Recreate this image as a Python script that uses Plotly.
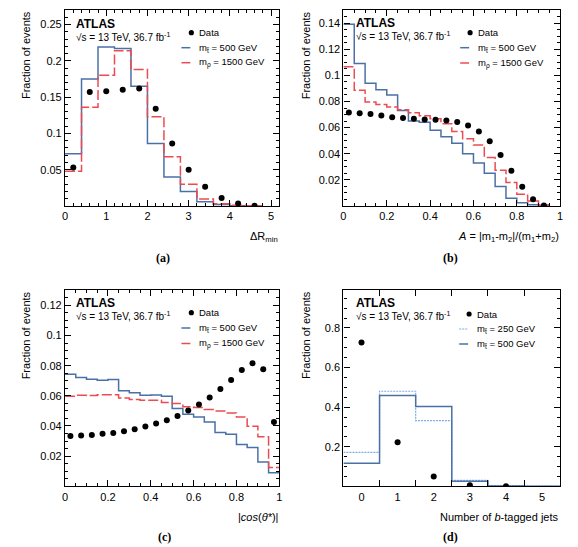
import plotly.graph_objects as go

W, H = 578, 547

# ---------------- data ----------------
# (a) Delta R_min
a_edges = [0, 0.4, 0.8, 1.2, 1.6, 2.0, 2.4, 2.8, 3.2, 3.6, 4.0, 4.4, 4.8]
a_stop500 = [0.072, 0.175, 0.219, 0.217, 0.165, 0.086, 0.040, 0.020, 0.006, 0.002, 0.0005, 0.0]
a_rho1500 = [0.048, 0.136, 0.180, 0.214, 0.188, 0.123, 0.068, 0.030, 0.0095, 0.003, 0.001, 0.0003]
a_data_x = [0.2, 0.6, 1.0, 1.4, 1.8, 2.2, 2.6, 3.0, 3.4, 3.8, 4.2, 4.6]
a_data = [0.053, 0.157, 0.158, 0.160, 0.162, 0.134, 0.086, 0.050, 0.0265, 0.011, 0.0036, 0.0005]

# (b) mass asymmetry A
b_edges = [0, 0.05, 0.1, 0.15, 0.2, 0.25, 0.3, 0.35, 0.4, 0.45, 0.5, 0.55, 0.6,
           0.65, 0.7, 0.75, 0.8, 0.85, 0.9, 0.95]
b_stop500 = [0.139, 0.109, 0.094, 0.089, 0.085, 0.073, 0.065, 0.064, 0.058, 0.053,
             0.048, 0.040, 0.033, 0.025, 0.015, 0.006, 0.0025, 0.001, 0.0003]
b_rho1500 = [0.1066, 0.0886, 0.0796, 0.0776, 0.0758, 0.0737, 0.0714, 0.069, 0.0668, 0.063,
             0.057, 0.0514, 0.0467, 0.0372, 0.0274, 0.018, 0.009, 0.0038, 0.001]
b_data_x = [0.025, 0.075, 0.125, 0.175, 0.225, 0.275, 0.325, 0.375, 0.425, 0.475,
            0.525, 0.575, 0.625, 0.675, 0.725, 0.775, 0.825, 0.875, 0.925]
b_data = [0.0716, 0.0709, 0.0704, 0.0693, 0.068, 0.0673, 0.0668, 0.0662, 0.066, 0.0655,
          0.0642, 0.0616, 0.057, 0.0495, 0.039, 0.027, 0.0148, 0.0051, 0.0004]

# (c) |cos(theta*)|
c_edges = [0, 0.05, 0.1, 0.15, 0.2, 0.25, 0.3, 0.35, 0.4, 0.45, 0.5, 0.55, 0.6,
           0.65, 0.7, 0.75, 0.8, 0.85, 0.9, 0.95, 1.0]
c_stop500 = [0.0743, 0.0721, 0.071, 0.0703, 0.0708, 0.0633, 0.062, 0.0604, 0.0606, 0.0597,
             0.0516, 0.0478, 0.046, 0.0427, 0.0357, 0.0346, 0.0277, 0.0257, 0.0162, 0.009]
c_rho1500 = [0.0597, 0.0604, 0.0602, 0.0608, 0.0608, 0.0586, 0.0575, 0.0571, 0.0571, 0.0555,
             0.0549, 0.0527, 0.0522, 0.0509, 0.050, 0.0487, 0.046, 0.0399, 0.0328, 0.0125]
c_data_x = [0.025, 0.075, 0.125, 0.175, 0.225, 0.275, 0.325, 0.375, 0.425, 0.475,
            0.525, 0.575, 0.625, 0.675, 0.725, 0.775, 0.825, 0.875, 0.925, 0.975]
c_data = [0.0334, 0.0337, 0.0341, 0.0348, 0.0354, 0.0365, 0.0379, 0.0397, 0.0416, 0.0438,
          0.0467, 0.0502, 0.0542, 0.0589, 0.0646, 0.0705, 0.0772, 0.0816, 0.0776, 0.0427]

# (d) number of b-tagged jets
d_edges = [-0.5, 0.5, 1.5, 2.5, 3.5, 4.5, 5.5]
d_stop250 = [0.171, 0.48, 0.332, 0.030, 0.004, 0.0005]
d_stop500 = [0.116, 0.459, 0.403, 0.0256, 0.002, 0.0003]
d_data_x = [0, 1, 2, 3, 4]
d_data = [0.726, 0.223, 0.049, 0.0055, 0.0005]
d_ticks = [0, 1, 2, 3, 4, 5]
d_bin_bounds = [-0.5, 0.5, 1.5, 2.5, 3.5, 4.5, 5.5]

BLUE = "#4a70a6"
RED = "#ec4b52"
LBLUE = "#7eaee0"
FONT = "Liberation Sans"
RED_DASH = "10px,3px"


def X(px):
    return px / W


def Y(py):
    return 1 - py / H


# frames in px: (left, right, top, bottom)
frames = {
    "a": (62.7, 279.2, 10, 206),
    "b": (344.0, 563.0, 10, 206),
    "c": (62.7, 279.2, 290.3, 486.3),
    "d": (344.0, 563.0, 290.3, 486.3),
}

fig = go.Figure()


def step(edges, vals, axn, color, dash, width=1.5, name=""):
    fig.add_trace(go.Scatter(
        x=edges, y=list(vals) + [vals[-1]], mode="lines", line_shape="hv",
        line=dict(color=color, width=width, dash=dash), name=name,
        xaxis="x" + axn, yaxis="y" + axn, showlegend=False, hoverinfo="skip"))


def points(xs, ys, axn):
    fig.add_trace(go.Scatter(
        x=xs, y=ys, mode="markers", marker=dict(color="black", size=6),
        name="Data", xaxis="x" + axn, yaxis="y" + axn, showlegend=False))


step(a_edges, a_stop500, "", BLUE, "solid", name="m_stop = 500 GeV")
step(a_edges, a_rho1500, "", RED, RED_DASH, name="m_rho = 1500 GeV")
points(a_data_x, a_data, "")

step(b_edges, b_stop500, "2", BLUE, "solid")
step(b_edges, b_rho1500, "2", RED, RED_DASH)
points(b_data_x, b_data, "2")

step(c_edges, c_stop500, "3", BLUE, "solid")
step(c_edges, c_rho1500, "3", RED, RED_DASH)
points(c_data_x, c_data, "3")

step(d_edges, d_stop250, "4", LBLUE, "2px,1px", width=1.2)
step(d_edges, d_stop500, "4", BLUE, "solid")
points(d_data_x, d_data, "4")


def axis(frame, horiz, rng, anchor, tickvals, minor_dtick=None, minor_vals=None,
         ticklen=6, ticktext=None):
    l, r, t, b = frames[frame]
    dom = [X(l), X(r)] if horiz else [Y(b), Y(t)]
    minor = dict(ticks="inside", ticklen=3, tickcolor="black", tickwidth=1, showgrid=False)
    if minor_dtick is not None:
        minor["dtick"] = minor_dtick
    if minor_vals is not None:
        minor["tickvals"] = minor_vals
        minor["ticklen"] = 6
    ax = dict(domain=dom, range=rng, anchor=anchor, showline=True, linecolor="black",
              linewidth=1.2, mirror="allticks", ticks="inside", ticklen=ticklen,
              tickcolor="black", tickwidth=1, showgrid=False, zeroline=False,
              tickvals=tickvals, tickfont=dict(family=FONT, size=11, color="black"),
              minor=minor, fixedrange=True)
    if ticktext is not None:
        ax["ticktext"] = ticktext
    return ax


layout = dict(
    width=W, height=H, margin=dict(l=0, r=0, t=0, b=0),
    paper_bgcolor="white", plot_bgcolor="white", showlegend=False,
    xaxis=axis("a", True, [0, 5.2], "y", [0, 1, 2, 3, 4, 5], minor_dtick=0.2),
    yaxis=axis("a", False, [0, 0.27], "x", [0.05, 0.1, 0.15, 0.2, 0.25], minor_dtick=0.01),
    xaxis2=axis("b", True, [0, 1], "y2", [0, 0.2, 0.4, 0.6, 0.8, 1], minor_dtick=0.05),
    yaxis2=axis("b", False, [0, 0.15], "x2", [0.02, 0.04, 0.06, 0.08, 0.1, 0.12, 0.14],
                minor_dtick=0.005),
    xaxis3=axis("c", True, [0, 1], "y3", [0, 0.2, 0.4, 0.6, 0.8, 1], minor_dtick=0.05),
    yaxis3=axis("c", False, [0, 0.13], "x3", [0.02, 0.04, 0.06, 0.08, 0.1, 0.12],
                minor_dtick=0.005),
    xaxis4=axis("d", True, [-0.5, 5.5], "y4", d_ticks, minor_vals=d_bin_bounds, ticklen=0),
    yaxis4=axis("d", False, [0, 0.99], "x4", [0.2, 0.4, 0.6, 0.8], minor_dtick=0.05),
)
fig.update_layout(**layout)

ann = []
shapes = []


def text(px, py, s, size=11, xanchor="left", yanchor="middle", angle=0, family=FONT):
    ann.append(dict(x=X(px), y=Y(py), xref="paper", yref="paper", text=s, showarrow=False,
                    xanchor=xanchor, yanchor=yanchor, textangle=angle,
                    font=dict(family=family, size=size, color="black"),
                    borderpad=0))


# y titles
for px, top in [(23.3, 10), (306.5, 10), (23.3, 290.3), (306.0, 290.3)]:
    text(px, top, "Fraction of events", size=11, xanchor="center", yanchor="top", angle=-90)

# x titles
text(279.2, 237, "ΔR<sub>min</sub>", xanchor="right")
text(563, 237, "<i>A</i> = |m<sub>1</sub>-m<sub>2</sub>|/(m<sub>1</sub>+m<sub>2</sub>)", xanchor="right")
text(279.2, 517, "|<i>cos</i>(<i>θ*</i>)|", xanchor="right")
text(563, 517, "Number of <i>b</i>-tagged jets", xanchor="right")

# captions
for px, py, s in [(162, 258, "(a)"), (452, 258, "(b)"), (163, 537, "(c)"), (452, 537, "(d)")]:
    text(px, py, "<b>%s</b>" % s, size=12, xanchor="center", family="Liberation Serif")

# ATLAS labels
for px, py in [(73, 24), (355.5, 23.5), (73, 303.3), (355.5, 303.3)]:
    text(px, py, "<b>ATLAS</b>", size=12)
    text(px, py + 12.7, "√s = 13 TeV, 36.7 fb<sup>-1</sup>", size=10)

# legends (manual, ROOT style)
STOP = "m<sub>t\u0303</sub>"


def legend(tx, rows, entries):
    for (label, kind, color, dash, width), ry in zip(entries, rows):
        text(tx, ry, label, size=9.5)
        if kind == "marker":
            r = 2.6
            shapes.append(dict(type="circle", xref="paper", yref="paper",
                               x0=X(tx - 7 - r), x1=X(tx - 7 + r), y0=Y(ry + r), y1=Y(ry - r),
                               fillcolor="black", line=dict(color="black", width=0)))
        else:
            shapes.append(dict(type="line", xref="paper", yref="paper",
                               x0=X(tx - 17), x1=X(tx - 8), y0=Y(ry), y1=Y(ry),
                               line=dict(color=color, width=width, dash=dash)))


ent_abc = [("Data", "marker", "black", "solid", 0),
           (STOP + " = 500 GeV", "line", BLUE, "solid", 1.5),
           ("m<sub>ρ</sub> = 1500 GeV", "line", RED, "solid", 1.5)]
legend(197.3, [32.7, 47.7, 62.7], ent_abc)
legend(479, [32.7, 47.7, 63], ent_abc)
legend(197.3, [312.7, 328, 343.5], ent_abc)
legend(478, [314, 329, 344], [("Data", "marker", "black", "solid", 0),
                              (STOP + " = 250 GeV", "line", LBLUE, "2px,1px", 1.2),
                              (STOP + " = 500 GeV", "line", BLUE, "solid", 1.5)])

fig.update_layout(annotations=ann, shapes=shapes)
fig.write_html("out.html")
